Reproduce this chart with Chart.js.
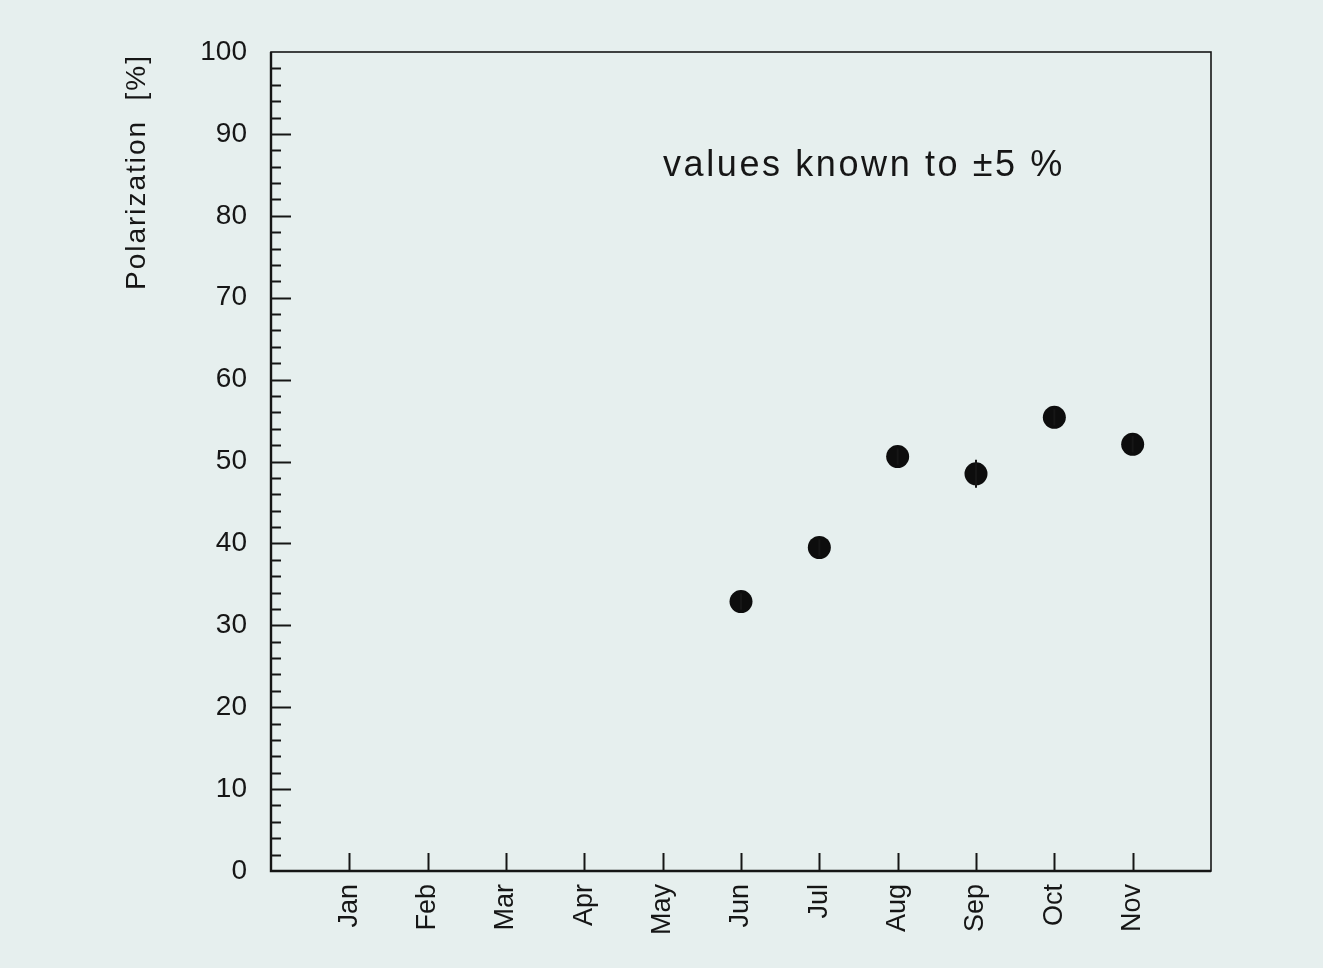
<!DOCTYPE html>
<html>
<head>
<meta charset="utf-8">
<script src="https://cdn.jsdelivr.net/npm/chart.js@4.4.1/dist/chart.umd.min.js"></script>
<style>
  html, body { margin:0; padding:0; background:#e6efee; }
  #wrap { width:1323px; height:968px; }
</style>
</head>
<body>
<div id="wrap"><canvas id="polChart" width="1323" height="968"></canvas></div>
<script>
// ==========================
// DATA
// ==========================
const months = ["Jan","Feb","Mar","Apr","May","Jun","Jul","Aug","Sep","Oct","Nov"];
const measuredMonths = [6, 7, 8, 9, 10, 11];           // Jun .. Nov
const polarization = [32.9, 39.5, 50.6, 48.5, 55.4, 52.1];
const polErrors = [1.0, 1.0, 1.0, 1.7, 1.0, 1.0];
const yTicks = [0,10,20,30,40,50,60,70,80,90,100];
const noteText = "values known to \u00b15 %";
const yTitle = "Polarization  [%]";

const bg = "#e6efee";
const ink = "#161616";
const fontFam = "'Liberation Sans', Arial, sans-serif";

// ==========================
// FRAME + INSIDE TICKS
// ==========================
const framePlugin = {
  id: "frame",
  beforeDraw(chart){
    const ctx = chart.ctx;
    ctx.save();
    ctx.fillStyle = bg;
    ctx.fillRect(0, 0, chart.width, chart.height);
    ctx.restore();
  },
  afterDatasetsDraw(chart){
    const {ctx, chartArea:a, scales:{x, y}} = chart;
    ctx.save();
    ctx.strokeStyle = ink;
    ctx.lineCap = "butt";

    // box
    ctx.lineWidth = 1.6;
    ctx.strokeRect(a.left, a.top, a.right - a.left, a.bottom - a.top);
    // heavier left / bottom axes
    ctx.lineWidth = 2.4;
    ctx.beginPath();
    ctx.moveTo(a.left, a.top);
    ctx.lineTo(a.left, a.bottom);
    ctx.lineTo(a.right, a.bottom);
    ctx.stroke();

    // y ticks, major every 10, minor every 2
    ctx.lineWidth = 2;
    for(let v = 2; v < 100; v += 2){
      const py = Math.round(y.getPixelForValue(v)) + 0.5;
      const len = v % 10 === 0 ? 20 : 10;
      ctx.beginPath();
      ctx.moveTo(a.left, py);
      ctx.lineTo(a.left + len, py);
      ctx.stroke();
    }

    // x ticks at each month
    months.forEach((m, i) => {
      const px = Math.round(x.getPixelForValue(i + 1)) + 0.5;
      ctx.beginPath();
      ctx.moveTo(px, a.bottom);
      ctx.lineTo(px, a.bottom - 18);
      ctx.stroke();
    });

    // error bars
    ctx.lineWidth = 2;
    measuredMonths.forEach((m, i) => {
      const px = x.getPixelForValue(m);
      ctx.beginPath();
      ctx.moveTo(px, y.getPixelForValue(polarization[i] - polErrors[i]));
      ctx.lineTo(px, y.getPixelForValue(polarization[i] + polErrors[i]));
      ctx.stroke();
    });

    // note text
    ctx.fillStyle = ink;
    ctx.font = "36px " + fontFam;
    ctx.textBaseline = "alphabetic";
    ctx.textAlign = "left";
    const w = ctx.measureText(noteText).width;
    ctx.letterSpacing = Math.max(0, (402 - w) / noteText.length).toFixed(2) + "px";
    ctx.fillText(noteText, 663, 176);
    ctx.letterSpacing = "0px";

    // y title
    ctx.font = "28px " + fontFam;
    ctx.translate(137, 54);
    ctx.rotate(-Math.PI / 2);
    ctx.textAlign = "right";
    ctx.textBaseline = "middle";
    const tw = ctx.measureText(yTitle).width;
    ctx.letterSpacing = Math.max(0, (236 - tw) / yTitle.length).toFixed(2) + "px";
    ctx.fillText(yTitle, 0, 0);
    ctx.restore();
  }
};

// ==========================
// CHART
// ==========================
const polChart = new Chart(document.getElementById("polChart"), {
  type: "scatter",
  data: {
    datasets: [{
      data: measuredMonths.map((m, i) => ({x: m, y: polarization[i]})),
      backgroundColor: "#0d0d0d",
      borderColor: "#0d0d0d",
      pointRadius: 11.5,
      pointHoverRadius: 11.5,
      borderWidth: 0
    }]
  },
  options: {
    responsive: false,
    animation: false,
    layout: { padding: { left: 0, top: 52, right: 112, bottom: 0 } },
    plugins: { legend: { display: false }, tooltip: { enabled: false } },
    scales: {
      x: {
        type: "linear",
        min: 0, max: 12,
        afterFit(s){ s.height = 97; },
        afterBuildTicks(s){ s.ticks = months.map((m, i) => ({value: i + 1})); },
        grid: { display: false, drawTicks: false },
        border: { display: false },
        ticks: {
          autoSkip: false,
          maxRotation: 90, minRotation: 90,
          padding: 13,
          color: ink,
          font: { family: fontFam, size: 27 },
          callback: v => months[v - 1] || ""
        }
      },
      y: {
        min: 0, max: 100,
        afterFit(s){ s.width = 271; },
        afterBuildTicks(s){ s.ticks = yTicks.map(v => ({value: v})); },
        grid: { display: false, drawTicks: false },
        border: { display: false },
        ticks: {
          padding: 24,
          color: ink,
          font: { family: fontFam, size: 28 }
        }
      }
    }
  },
  plugins: [framePlugin]
});
</script>
</body>
</html>
